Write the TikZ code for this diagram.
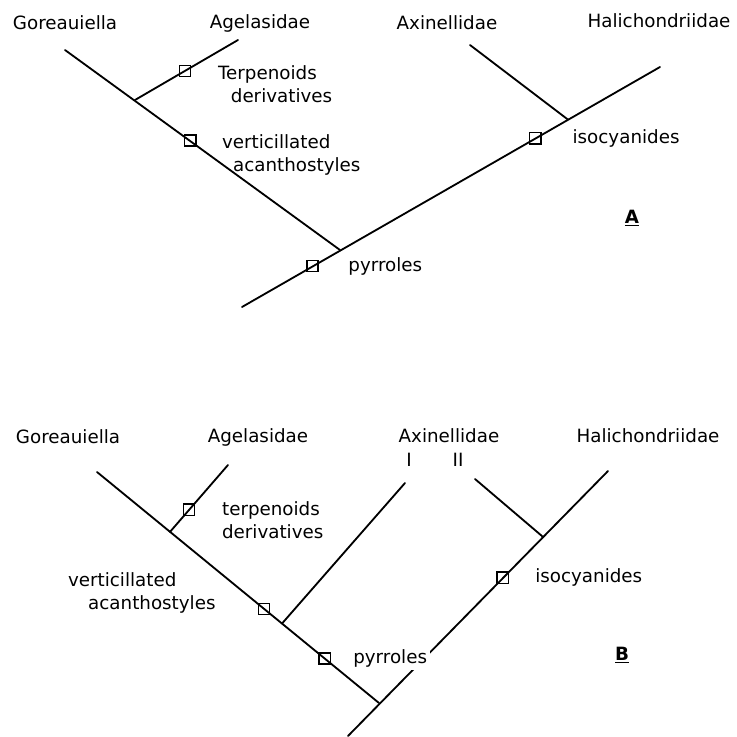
\documentclass[tikz,border=0pt]{standalone}
\usepackage{fontspec}
\setmainfont{DejaVu Sans}
\usetikzlibrary{positioning,calc}

\begin{document}
\begin{tikzpicture}[
  x=0.025cm, y=-0.025cm,
  branch/.style={line width=1.3pt, line cap=round},
  charbox/.style={rectangle, draw, line width=1pt, minimum size=8pt, inner sep=0pt},
  taxon/.style={font=\fontsize{13}{16}\selectfont, inner sep=2pt},
  trait/.style={font=\fontsize{13}{16.5}\selectfont, align=left, inner sep=2pt},
  panel/.style={font=\fontsize{13}{16}\selectfont\bfseries}
]
  \useasboundingbox (0,0) rectangle (737,737);

  % ---------- tree A ----------
  \node[taxon] (gorA) at (65,23) {Goreauiella};
  \node[taxon] (agA) at (260,23) {Agelasidae};
  \node[taxon] (axA) at (447,23) {Axinellidae};
  \node[taxon] (halA) at (659,21) {Halichondriidae};

  \coordinate (tGorA) at (65,50);
  \coordinate (tAgA) at (238,40);
  \coordinate (tAxA) at (470,45);
  \coordinate (tHalA) at (660,67);
  \coordinate (rootA) at (242,307);
  \coordinate (nAgA) at (135,100);
  \coordinate (nA) at (340,250);
  \coordinate (nAxA) at ($(nA)!0.7125!(tHalA)$);

  \draw[branch] (rootA) -- (tHalA);
  \draw[branch] (tGorA) -- (nA);
  \draw[branch] (nAgA) -- (tAgA);
  \draw[branch] (nAxA) -- (tAxA);

  \node[charbox] (terpA) at ($(nAgA)!0.485!(tAgA)$) {};
  \node[charbox] (vertA) at ($(nAgA)!0.27!(nA)$) {};
  \node[charbox] (pyrA) at ($(rootA)!0.72!(nA)$) {};
  \node[charbox] (isoA) at ($(nA)!0.61!(tHalA)$) {};

  \node[trait, anchor=west] (terpAtxt) at (215,84) {Terpenoids\\\hspace*{0.7em}derivatives};
  \node[trait, anchor=west] (vertAtxt) at (219,155) {verticillated\\\hspace*{0.6em}acanthostyles};
  \node[trait, right=0.66cm of pyrA] (pyrAtxt) {pyrroles};
  \node[trait, right=0.7cm of isoA] (isoAtxt) {isocyanides};
  \node[panel] (lblA) at (632,218) {\underline{A}};

  % ---------- tree B ----------
  \node[taxon] (gorB) at (68,437) {Goreauiella};
  \node[taxon] (agB) at (258,437) {Agelasidae};
  \node[taxon] (axB) at (449,436) {Axinellidae};
  \node[taxon] (axIB) at (409,460) {I};
  \node[taxon] (axIIB) at (458,460) {II};
  \node[taxon] (halB) at (648,436) {Halichondriidae};

  \coordinate (tGorB) at (97,472);
  \coordinate (tAgB) at (228,465);
  \coordinate (tAxIB) at (405,483);
  \coordinate (tAxIIB) at (475,479);
  \coordinate (tHalB) at (608,471);
  \coordinate (rootB) at (348,736);
  \coordinate (nB) at (379,703);
  \coordinate (nAgB) at ($(tGorB)!0.259!(nB)$);
  \coordinate (nAxIB) at ($(tGorB)!0.656!(nB)$);
  \coordinate (nAxIIB) at ($(nB)!0.716!(tHalB)$);

  \draw[branch] (rootB) -- (tHalB);
  \draw[branch] (tGorB) -- (nB);
  \draw[branch] (nAgB) -- (tAgB);
  \draw[branch] (nAxIB) -- (tAxIB);
  \draw[branch] (nAxIIB) -- (tAxIIB);

  \node[charbox] (terpB) at ($(nAgB)!0.33!(tAgB)$) {};
  \node[charbox] (vertB) at ($(nAgB)!0.84!(nAxIB)$) {};
  \node[charbox] (pyrB) at ($(nAxIB)!0.44!(nB)$) {};
  \node[charbox] (isoB) at ($(nB)!0.54!(tHalB)$) {};

  \node[trait, anchor=west] (terpBtxt) at (219,520) {terpenoids\\derivatives};
  \node[trait, anchor=west] (vertBtxt) at (65,593) {verticillated\\\hspace*{1.1em}acanthostyles};
  \node[trait, fill=white, right=0.48cm of pyrB] (pyrBtxt) {pyrroles};
  \node[trait, right=0.58cm of isoB] (isoBtxt) {isocyanides};
  \node[panel] (lblB) at (622,655) {\underline{B}};
\end{tikzpicture}
\end{document}
